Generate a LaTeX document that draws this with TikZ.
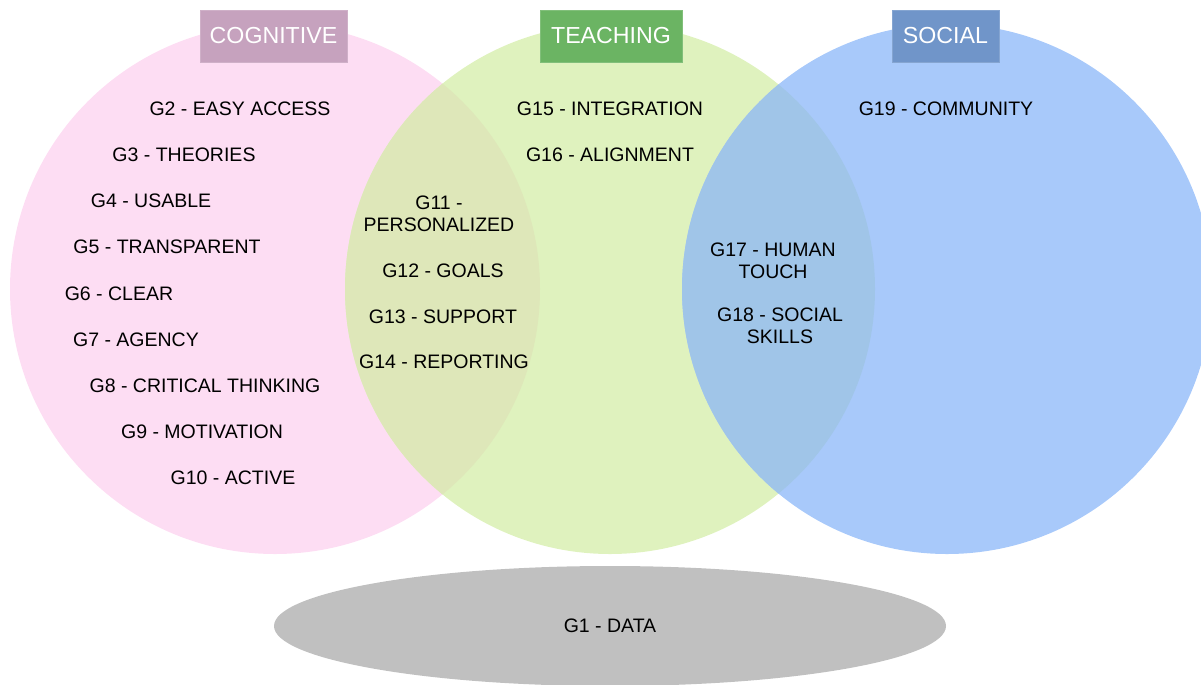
\documentclass[tikz,border=0pt]{standalone}
\usepackage{fontspec}
\setmainfont{Liberation Sans}
\usetikzlibrary{positioning}

\definecolor{cogfill}{RGB}{253,221,243}
\definecolor{teachfill}{RGB}{223,242,190}
\definecolor{socfill}{RGB}{168,201,250}
\definecolor{cogteach}{RGB}{222,231,185}
\definecolor{teachsoc}{RGB}{160,197,232}
\definecolor{cogbox}{RGB}{198,162,190}
\definecolor{teachbox}{RGB}{107,180,99}
\definecolor{socbox}{RGB}{112,149,201}
\definecolor{datafill}{RGB}{192,192,192}

\tikzset{
  goal/.style={font=\fontsize{11.1}{12.6}\selectfont, align=center, inner sep=0pt},
  header/.style={font=\fontsize{13.2}{15}\selectfont, text=white, inner sep=0pt,
                 minimum height=1.04cm, line width=0.5pt}
}

\begin{document}
\begin{tikzpicture}[x=0.02cm, y=-0.02cm]
    \useasboundingbox (0,0) rectangle (1201,684);

    % Circles
    \fill[cogfill] (275,289) circle[radius=265];
    \fill[teachfill] (610,289) circle[radius=265];
    \fill[socfill] (947,289) circle[radius=265];

    % Overlaps
    \begin{scope}
        \clip (275,289) circle[radius=265];
        \fill[cogteach] (610,289) circle[radius=265];
    \end{scope}
    \begin{scope}
        \clip (610,289) circle[radius=265];
        \fill[teachsoc] (947,289) circle[radius=265];
    \end{scope}

    % Data
    \fill[datafill] (610,626) ellipse[x radius=336, y radius=60];
    \node[goal] (g1) at (610,626) {G1 - DATA};

    % Headers
    \node[header, fill=cogbox, draw=cogbox!85!white, minimum width=2.94cm] (cog) at (273.5,36) {COGNITIVE};
    \node[header, fill=teachbox, draw=teachbox!85!white, minimum width=2.84cm] (teach) at (611,36) {TEACHING};
    \node[header, fill=socbox, draw=socbox!85!white, minimum width=2.14cm] (soc) at (945.5,36) {SOCIAL};

    % Cognitive
    \node[goal] (g2) at (240,109) {G2 - EASY ACCESS};
    \node[goal] (g3) at (184,155) {G3 - THEORIES};
    \node[goal] (g4) at (151,201) {G4 - USABLE};
    \node[goal] (g5) at (167,247) {G5 - TRANSPARENT};
    \node[goal] (g6) at (119,294) {G6 - CLEAR};
    \node[goal] (g7) at (136,340) {G7 - AGENCY};
    \node[goal] (g8) at (205,386) {G8 - CRITICAL THINKING};
    \node[goal] (g9) at (202,432) {G9 - MOTIVATION};
    \node[goal] (g10) at (233,478) {G10 - ACTIVE};

    % Cognitive + teaching
    \node[goal] (g11) at (439,214) {G11 -\\PERSONALIZED};
    \node[goal] (g12) at (443,271) {G12 - GOALS};
    \node[goal] (g13) at (443,317) {G13 - SUPPORT};
    \node[goal] (g14) at (444,362) {G14 - REPORTING};

    % Teaching
    \node[goal] (g15) at (610,109) {G15 - INTEGRATION};
    \node[goal] (g16) at (610,155) {G16 - ALIGNMENT};

    % Teaching + social
    \node[goal] (g17) at (773,261) {G17 - HUMAN\\TOUCH};
    \node[goal] (g18) at (780,326) {G18 - SOCIAL\\SKILLS};

    % Social
    \node[goal] (g19) at (946,109) {G19 - COMMUNITY};
\end{tikzpicture}
\end{document}
